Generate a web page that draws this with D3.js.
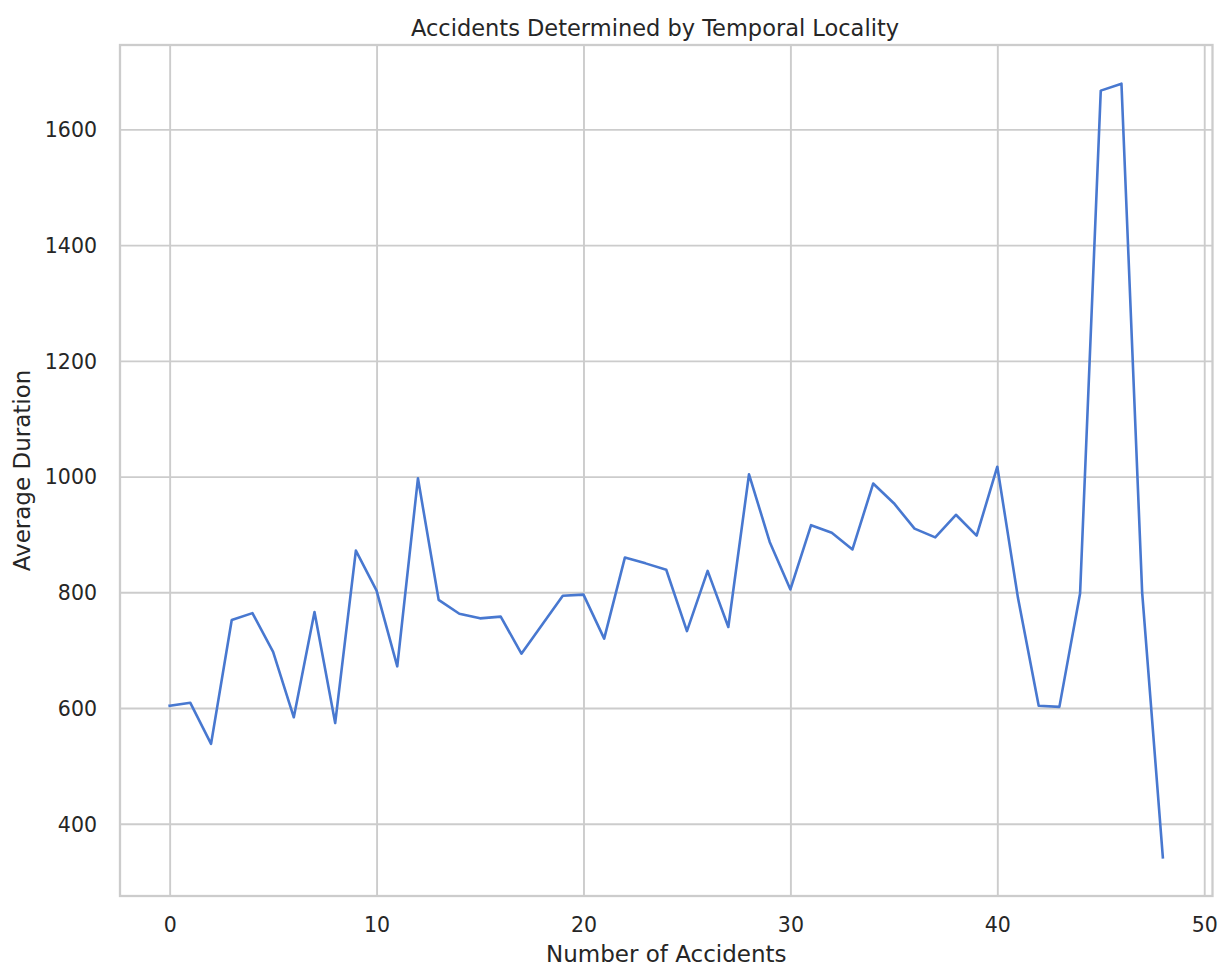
<!DOCTYPE html>
<html>
<head>
<meta charset="utf-8">
<script src="https://cdn.jsdelivr.net/npm/d3@7"></script>
<style>
  html, body { margin: 0; padding: 0; background: #ffffff; }
  svg { display: block; }
  text { font-family: "DejaVu Sans", sans-serif; fill: #262626; }
</style>
</head>
<body>
<svg id="chart" width="1218" height="966"></svg>
<script>
// ---- data ----
const accidents = [0,1,2,3,4,5,6,7,8,9,10,11,12,13,14,15,16,17,18,19,20,21,22,23,24,
                   25,26,27,28,29,30,31,32,33,34,35,36,37,38,39,40,41,42,43,44,45,46,47,48];
const avgDuration = [604,609,538,752,764,697,584,766,574,872,803,672,997,787,763,755,758,694,744,794,
                     796,720,860,850,839,733,837,740,1004,887,805,916,903,874,988,954,910,895,934,898,
                     1017,790,604,602,798,1667,1679,800,342];
const xTicks = [0,10,20,30,40,50];
const yTicks = [400,600,800,1000,1200,1400,1600];
const titleText = "Accidents Determined by Temporal Locality";
const xLabel = "Number of Accidents";
const yLabel = "Average Duration";

// ---- layout ----
const W = 1218, H = 966;
const L = 120, R = 1212.5, T = 45, B = 896;
const svg = d3.select("#chart");

const xMin = d3.min(accidents), xMax = d3.max(accidents);
const xPad = (xMax - xMin) * 0.05;
const yMin = d3.min(avgDuration), yMax = d3.max(avgDuration);
const yPad = (yMax - yMin) * 0.05;

const x = d3.scaleLinear().domain([xMin - xPad, xMax + xPad]).range([L, R]);
const y = d3.scaleLinear().domain([yMin - yPad, yMax + yPad]).range([B, T]);

const gridColor = "#cccccc";

// grid lines
const gxGrid = svg.append("g").attr("transform", `translate(0,${B})`)
  .call(d3.axisBottom(x).tickValues(xTicks).tickSize(-(B - T)).tickFormat(""));
gxGrid.select(".domain").remove();
gxGrid.selectAll("line").attr("stroke", gridColor).attr("stroke-width", 1.9);

const gyGrid = svg.append("g").attr("transform", `translate(${L},0)`)
  .call(d3.axisLeft(y).tickValues(yTicks).tickSize(-(R - L)).tickFormat(""));
gyGrid.select(".domain").remove();
gyGrid.selectAll("line").attr("stroke", gridColor).attr("stroke-width", 1.9);

// frame (spines)
svg.append("rect")
  .attr("x", L).attr("y", T).attr("width", R - L).attr("height", B - T)
  .attr("fill", "none").attr("stroke", gridColor).attr("stroke-width", 2.3);

// axes tick labels
const gx = svg.append("g").attr("transform", `translate(0,${B})`)
  .call(d3.axisBottom(x).tickValues(xTicks).tickSize(0).tickPadding(21).tickFormat(d3.format("d")));
gx.select(".domain").remove();
gx.selectAll("text").attr("font-size", 20.5).attr("fill", "#333333")
  .style("font-family", "DejaVu Sans");

const gy = svg.append("g").attr("transform", `translate(${L},0)`)
  .call(d3.axisLeft(y).tickValues(yTicks).tickSize(0).tickPadding(23).tickFormat(d3.format("d")));
gy.select(".domain").remove();
gy.selectAll("text").attr("font-size", 20.5).attr("dy", "0.36em").attr("fill", "#333333")
  .style("font-family", "DejaVu Sans");

// line
const line = d3.line().x((d, i) => x(accidents[i])).y(d => y(d));
svg.append("path")
  .datum(avgDuration)
  .attr("d", line)
  .attr("fill", "none")
  .attr("stroke", "#4878d0")
  .attr("stroke-width", 2.6)
  .attr("stroke-linejoin", "round")
  .attr("stroke-linecap", "square");

// labels
svg.append("text")
  .attr("x", 655).attr("y", 35.5)
  .attr("text-anchor", "middle").attr("font-size", 22.5).attr("fill", "#333333")
  .text(titleText);

svg.append("text")
  .attr("x", (L + R) / 2).attr("y", 961.5)
  .attr("text-anchor", "middle").attr("font-size", 23).attr("fill", "#333333")
  .text(xLabel);

svg.append("text")
  .attr("transform", `translate(29.5,${(T + B) / 2}) rotate(-90)`)
  .attr("text-anchor", "middle").attr("font-size", 23).attr("fill", "#333333")
  .text(yLabel);
</script>
</body>
</html>
